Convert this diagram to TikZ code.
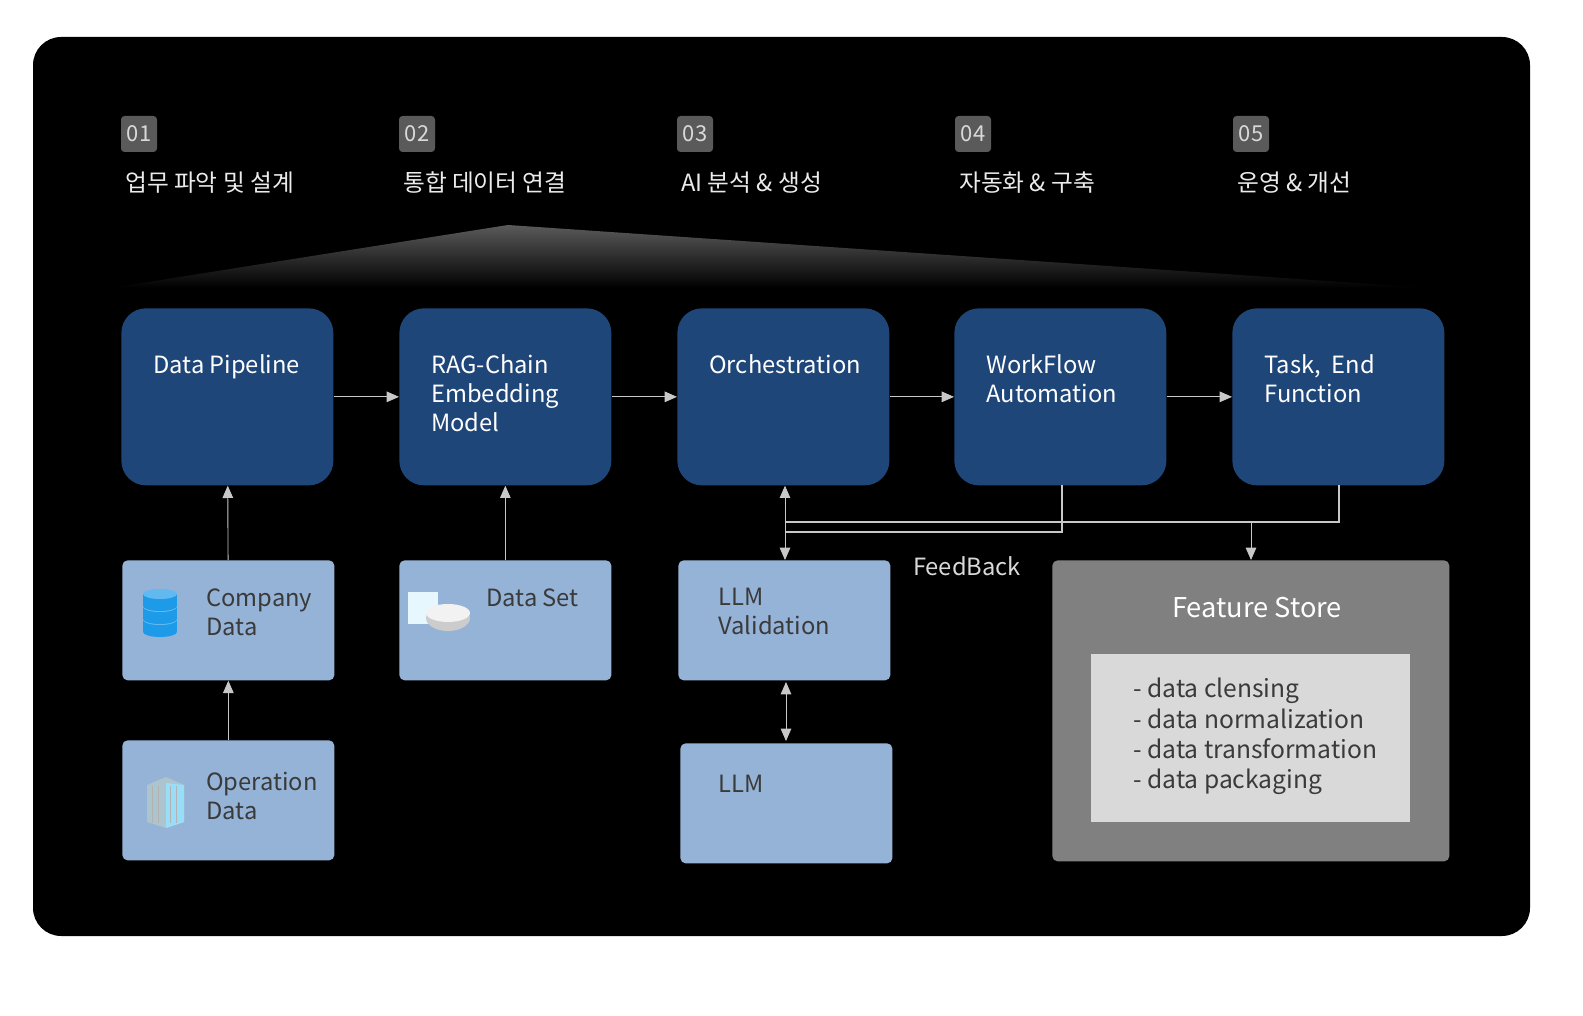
\documentclass[tikz,border=0pt]{standalone}
\usepackage{fontspec}
\setmainfont{Noto Sans CJK KR}
\usetikzlibrary{arrows.meta, positioning, calc, shapes.geometric}
\definecolor{stepblue}{HTML}{1F4679}
\definecolor{srcblue}{HTML}{95B3D7}
\definecolor{badgegray}{HTML}{5A5A5A}
\definecolor{storegray}{HTML}{808080}
\definecolor{listgray}{HTML}{D9D9D9}
\definecolor{arwgray}{HTML}{C8C8C8}
\definecolor{txtdark}{HTML}{3A3A3A}
\definecolor{iconblue}{HTML}{1E9BE8}

\begin{document}
\begin{tikzpicture}[x=0.02cm, y=-0.02cm,
    stepblk/.style={draw=none, rectangle, rounded corners=14pt,
                    minimum width=212*0.02cm, minimum height=177*0.02cm,
                    fill=stepblue, anchor=north west},
    srcblk/.style={rectangle, rounded corners=3pt,
                   minimum width=212*0.02cm, minimum height=120*0.02cm,
                   fill=srcblue, anchor=north west},
    badge/.style={rectangle, rounded corners=2pt, fill=badgegray,
                  minimum size=36*0.02cm, inner sep=0pt, text=white!85!black,
                  font=\fontsize{12.5}{14}\selectfont},
    steplbl/.style={anchor=west, text=white!92!black,
                    font=\fontsize{13.5}{16}\selectfont},
    inlbl/.style={anchor=north west, align=left, inner sep=0pt,
                  font=\fontsize{13.5}{16.5}\selectfont},
    arw/.style={-{Triangle[length=7pt,width=6pt]}, color=arwgray, line width=0.5pt},
    darw/.style={{Triangle[length=7pt,width=6pt]}-{Triangle[length=7pt,width=6pt]},
                 color=arwgray, line width=0.5pt},
    fbline/.style={color=arwgray, line width=0.6pt}
  ]
    \useasboundingbox (0,0) rectangle (1583,1016);
    \fill[white] (0,0) rectangle (1583,1016);
    \fill[black, rounded corners=16pt] (33,37) rectangle (1530,936);

    % steps
    \foreach \i/\x/\t in {1/139/업무 파악 및 설계, 2/417/통합 데이터 연결,
                          3/695/AI 분석 \& 생성, 4/973/자동화 \& 구축, 5/1251/운영 \& 개선} {
      \node[badge] (b\i) at (\x,134) {0\i};
      \node[steplbl] (s\i) at (\x-20,183) {\t};
    }

    % gradient roof
    \shade[top color=badgegray, bottom color=black]
      (110,288) -- (508,225) -- (1430,288) -- cycle;

    % main blocks
    \node[stepblk] (pipe)  at (121,308) {};
    \node[stepblk] (rag)   at (399,308) {};
    \node[stepblk] (orch)  at (677,308) {};
    \node[stepblk] (wflow) at (954,308) {};
    \node[stepblk] (task)  at (1232,308) {};
    \node[inlbl, text=white] at ($(pipe.north west)+(32,46)$)  {Data Pipeline};
    \node[inlbl, text=white] at ($(rag.north west)+(32,46)$)   {RAG-Chain\\Embedding\\Model};
    \node[inlbl, text=white] at ($(orch.north west)+(32,46)$)  {Orchestration};
    \node[inlbl, text=white] at ($(wflow.north west)+(32,46)$) {WorkFlow\\Automation};
    \node[inlbl, text=white] at ($(task.north west)+(32,46)$)  {Task,\ \ End\\Function};

    \draw[arw] (pipe)  -- (rag);
    \draw[arw] (rag)   -- (orch);
    \draw[arw] (orch)  -- (wflow);
    \draw[arw] (wflow) -- (task);

    % sources
    \node[srcblk] (comp) at (122,560) {};
    \node[srcblk] (dset) at (399,560) {};
    \node[srcblk] (llmv) at (678,560) {};
    \node[srcblk] (oper) at (122,740) {};
    \node[srcblk] (llm)  at (680,743) {};
    \node[inlbl, text=txtdark] at ($(comp.north west)+(84,28)$) {Company\\Data};
    \node[inlbl, text=txtdark] at ($(dset.north west)+(87,28)$) {Data Set};
    \node[inlbl, text=txtdark] at ($(llmv.north west)+(40,28)$) {LLM\\Validation};
    \node[inlbl, text=txtdark] at ($(oper.north west)+(84,32)$) {Operation\\Data};
    \node[inlbl, text=txtdark] at ($(llm.north west)+(38,32)$)  {LLM};

    % icons
    \foreach \yy in {626,613,600} {
      \fill[iconblue] (143,\yy-6) rectangle (177,\yy+6);
      \fill[iconblue] (160,\yy+6) ellipse[x radius=17, y radius=5];
      \fill[iconblue!70!white] (160,\yy-6) ellipse[x radius=17, y radius=5];
    }
    \fill[white!90!cyan] (408,592) rectangle (438,624);
    \fill[gray!40] (448,618) ellipse[x radius=22, y radius=13];
    \fill[white!90!gray] (448,613) ellipse[x radius=22, y radius=9];
    \fill[cyan!30!gray!60] (147,785) -- (166,777) -- (184,785) -- (184,822) -- (166,828) -- (147,822) -- cycle;
    \fill[cyan!40!white] (166,783) -- (184,785) -- (184,822) -- (166,828) -- cycle;
    \foreach \xx in {152,158,170,176} { \draw[gray!60, line width=0.3pt] (\xx,786) -- (\xx,823); }

    % feature store
    \node[rectangle, rounded corners=3pt, fill=storegray, anchor=north west,
          minimum width=397*0.02cm, minimum height=301*0.02cm] (store) at (1052,560) {};
    \node[text=white, font=\fontsize{15.5}{18}\selectfont] (storet) at (1257,608) {Feature Store};
    \node[rectangle, fill=listgray, anchor=north west,
          minimum width=319*0.02cm, minimum height=168*0.02cm] (flist) at (1091,654) {};
    \node[inlbl, text=txtdark, font=\fontsize{14}{17.2}\selectfont]
      at ($(flist.north west)+(42,24)$)
      {- data clensing\\- data normalization\\- data transformation\\- data packaging};

    \draw[arw]  (comp) -- (pipe);
    \draw[arw]  (oper) -- (comp);
    \draw[arw]  (dset) -- (rag);
    \coordinate (lx1) at (786,682);
    \coordinate (lx2) at (786,741);
    \draw[darw] (lx1) -- (lx2);

    % feedback loops
    \coordinate (fbx) at (785,532);
    \coordinate (fby) at (785,522);
    \coordinate (wfb) at (1062,485);
    \coordinate (tkb) at (1339,485);
    \coordinate (fsx) at (1251,522);
    \draw[darw] (orch.south -| fbx) -- (llmv.north -| fbx);
    \draw[fbline] (wfb) |- (fbx);
    \draw[fbline] (tkb) |- (fby);
    \draw[arw] (fsx) -- (store.north -| fsx);
    \node[text=white!85!black, font=\fontsize{13.5}{16}\selectfont] (fb) at (967,566) {FeedBack};
\end{tikzpicture}
\end{document}
